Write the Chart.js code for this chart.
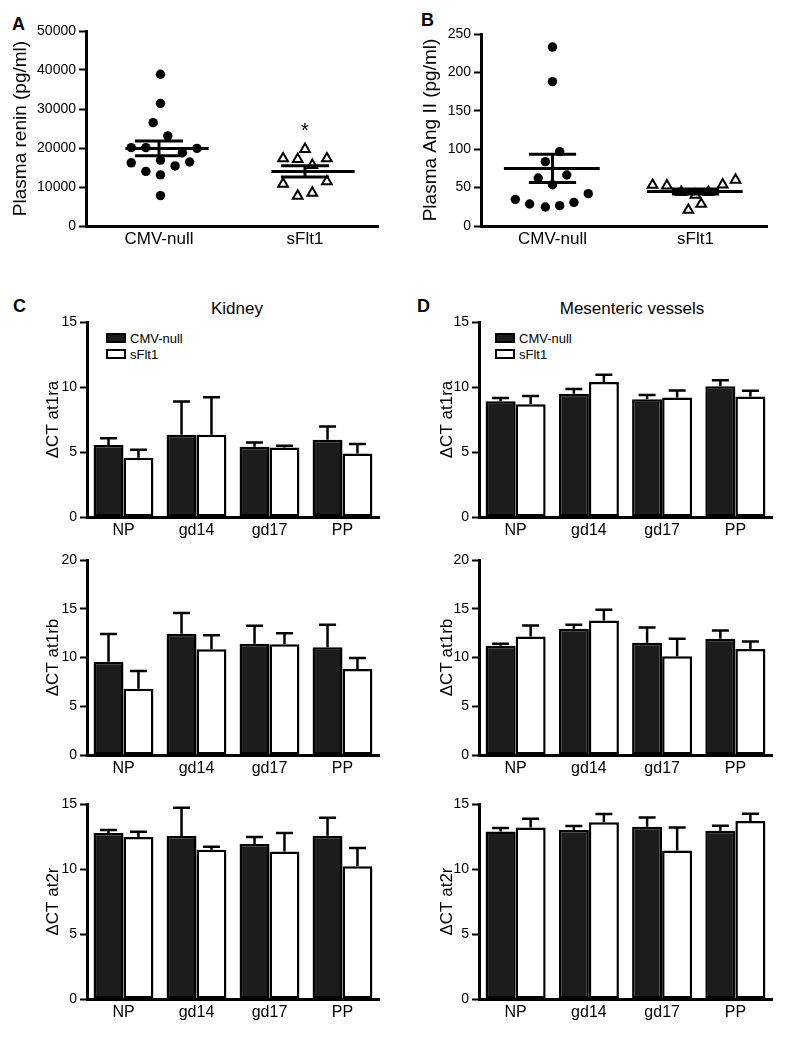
<!DOCTYPE html>
<html>
<head>
<meta charset="utf-8">
<script src="https://cdn.jsdelivr.net/npm/chart.js@4.4.1/dist/chart.umd.min.js"></script>
<style>
    html, body { margin: 0; padding: 0; background: #fff; }
    #fig { position: relative; width: 790px; height: 1041px; overflow: hidden;
           font-family: 'Liberation Sans', Arial, sans-serif; color: #000; }
    #fig canvas { position: absolute; }
    .tag { position: absolute; font-weight: bold; font-size: 18px; line-height: 18px; }
    .head { position: absolute; width: 300px; text-align: center; font-size: 17px; line-height: 17px; }
    .legend { position: absolute; font-size: 13px; }
    .legend .row { display: flex; align-items: center; height: 16px; }
    .legend .box { width: 20px; height: 10px; border: 2px solid #000; box-sizing: border-box;
                   margin-right: 4px; background: #fff; }
    .legend .box.dark { background: #1c1c1c; }
</style>
</head>
<body>
<div id="fig">
    <div class="tag" style="left:12px; top:15px;">A</div>
    <div class="tag" style="left:421px; top:11px;">B</div>
    <div class="tag" style="left:13px; top:297px;">C</div>
    <div class="tag" style="left:417px; top:297px;">D</div>
    <div class="head" style="left:87px; top:300px;">Kidney</div>
    <div class="head" style="left:482px; top:300px;">Mesenteric vessels</div>
    <div class="legend" style="left:106px; top:330px;">
        <div class="row"><span class="box dark"></span>CMV-null</div>
        <div class="row"><span class="box"></span>sFlt1</div>
    </div>
    <div class="legend" style="left:495px; top:330px;">
        <div class="row"><span class="box dark"></span>CMV-null</div>
        <div class="row"><span class="box"></span>sFlt1</div>
    </div>
</div>
<script>
// ---- data ----
const groups = ['CMV-null', 'sFlt1'];

// A: plasma renin (pg/ml)
const reninCmv = [38900, 31450, 26500, 23100, 20100, 20100, 19900, 18800, 16200, 16400, 16900, 14000, 15400, 13100, 7800];
const reninCmvJitter = [0.01, 0.01, -0.04, 0.06, -0.19, -0.09, 0.26, 0.16, -0.19, 0.21, 0.01, -0.09, 0.11, 0.01, 0.01];
const reninSflt = [19700, 17300, 17100, 17300, 15600, 10800, 11400, 7700, 8500];
const reninSfltJitter = [0, -0.15, -0.05, 0.15, 0.05, -0.15, 0.15, -0.05, 0.05];
const reninMean = [19900, 14000];
const reninSem = [1900, 1450];
const reninStar = [null, 25600];

// B: plasma Ang II (pg/ml)
const angCmv = [233, 188, 96.8, 83.8, 62.5, 66.4, 53.8, 34.7, 28.6, 24.7, 26.5, 30.8, 42.1];
const angCmvJitter = [0, 0, 0.05, -0.05, -0.1, 0.1, 0, -0.26, -0.16, -0.05, 0.05, 0.15, 0.25];
const angSflt = [53.4, 52.5, 44, 44, 53.8, 60, 40.4, 28.6, 20.8];
const angSfltJitter = [-0.3, -0.2, -0.1, 0.09, 0.19, 0.28, 0, 0.04, -0.05];
const angMean = [75, 45];
const angSem = [18.5, 3.3];

// C / D: delta CT by stage
const stages = ['NP', 'gd14', 'gd17', 'PP'];

const kidAt1raCmv = [5.53, 6.33, 5.40, 5.94];
const kidAt1raCmvErr = [0.52, 2.55, 0.34, 1.03];
const kidAt1raSflt = [4.55, 6.33, 5.35, 4.89];
const kidAt1raSfltErr = [0.62, 2.88, 0.13, 0.72];

const kidAt1rbCmv = [9.57, 12.44, 11.42, 11.04];
const kidAt1rbCmvErr = [2.84, 2.12, 1.84, 2.33];
const kidAt1rbSflt = [6.80, 10.84, 11.35, 8.82];
const kidAt1rbSfltErr = [1.82, 1.43, 1.13, 1.13];

const kidAt2rCmv = [12.77, 12.53, 11.92, 12.56];
const kidAt2rCmvErr = [0.23, 2.19, 0.54, 1.39];
const kidAt2rSflt = [12.46, 11.48, 11.35, 10.22];
const kidAt2rSfltErr = [0.41, 0.23, 1.42, 1.39];

const mesAt1raCmv = [8.90, 9.49, 9.05, 10.05];
const mesAt1raCmvErr = [0.25, 0.36, 0.33, 0.46];
const mesAt1raSflt = [8.67, 10.38, 9.20, 9.26];
const mesAt1raSfltErr = [0.64, 0.57, 0.54, 0.46];

const mesAt1rbCmv = [11.21, 12.95, 11.52, 11.93];
const mesAt1rbCmvErr = [0.20, 0.41, 1.56, 0.85];
const mesAt1rbSflt = [12.16, 13.80, 10.12, 10.87];
const mesAt1rbSfltErr = [1.13, 1.09, 1.81, 0.78];

const mesAt2rCmv = [12.89, 13.00, 13.25, 12.94];
const mesAt2rCmvErr = [0.26, 0.30, 0.72, 0.39];
const mesAt2rSflt = [13.20, 13.59, 11.43, 13.69];
const mesAt2rSfltErr = [0.67, 0.64, 1.77, 0.56];

// ---- drawing ----
Chart.defaults.font.family = "'Liberation Sans', Arial, sans-serif";
Chart.defaults.color = '#000';
Chart.defaults.animation = false;

const PAD_TOP = 12, PAD_RIGHT = 10, AXIS_H = 30;

// one-sided error bars on top of each bar
const errorBars = {
    id: 'errorBars',
    afterDatasetsDraw(chart) {
        const { ctx } = chart;
        const y = chart.scales.y;
        chart.data.datasets.forEach((ds, i) => {
            if (!ds.errors) return;
            chart.getDatasetMeta(i).data.forEach((bar, j) => {
                const top = y.getPixelForValue(ds.data[j] + ds.errors[j]);
                ctx.save();
                ctx.strokeStyle = '#000';
                ctx.lineWidth = 2.5;
                ctx.beginPath();
                ctx.moveTo(bar.x, bar.y);
                ctx.lineTo(bar.x, top);
                ctx.moveTo(bar.x - 8.5, top);
                ctx.lineTo(bar.x + 8.5, top);
                ctx.stroke();
                ctx.restore();
            });
        });
    }
};

// mean line with SEM whiskers over the dot plots
const meanSem = {
    id: 'meanSem',
    afterDatasetsDraw(chart, args, opts) {
        if (!opts.means) return;
        const { ctx, scales: { x, y } } = chart;
        opts.means.forEach((m, i) => {
            const cx = i + 1;
            const ym = y.getPixelForValue(m);
            const yu = y.getPixelForValue(m + opts.sems[i]);
            const yl = y.getPixelForValue(m - opts.sems[i]);
            ctx.save();
            ctx.strokeStyle = '#000';
            ctx.lineWidth = 3;
            ctx.beginPath();
            ctx.moveTo(x.getPixelForValue(cx + opts.span[0]), ym);
            ctx.lineTo(x.getPixelForValue(cx + opts.span[1]), ym);
            ctx.moveTo(x.getPixelForValue(cx - opts.cap), yu);
            ctx.lineTo(x.getPixelForValue(cx + opts.cap), yu);
            ctx.moveTo(x.getPixelForValue(cx - opts.cap), yl);
            ctx.lineTo(x.getPixelForValue(cx + opts.cap), yl);
            ctx.moveTo(x.getPixelForValue(cx), yu);
            ctx.lineTo(x.getPixelForValue(cx), yl);
            ctx.stroke();
            if (opts.stars && opts.stars[i] != null) {
                ctx.fillStyle = '#000';
                ctx.font = "20px 'Liberation Sans', Arial, sans-serif";
                ctx.textAlign = 'center';
                ctx.textBaseline = 'alphabetic';
                ctx.fillText('*', x.getPixelForValue(cx), y.getPixelForValue(opts.stars[i]) + 11);
            }
            ctx.restore();
        });
    }
};

function makeCanvas(area) {
    const c = document.createElement('canvas');
    c.width = area.r - area.l + area.axisW + PAD_RIGHT;
    c.height = area.b - area.t + PAD_TOP + AXIS_H;
    c.style.left = (area.l - area.axisW) + 'px';
    c.style.top = (area.t - PAD_TOP) + 'px';
    document.getElementById('fig').appendChild(c);
    return c;
}

function yAxis(area, max, step, title, tickSize, titleSize) {
    return {
        min: 0,
        max: max,
        ticks: { stepSize: step, font: { size: tickSize }, color: '#000', padding: 3, callback: v => String(v) },
        grid: { drawOnChartArea: false, drawTicks: true, tickLength: 7, tickWidth: 2, tickColor: '#000' },
        border: { display: true, color: '#000', width: 3 },
        title: { display: true, text: title, color: '#000', font: { size: titleSize }, padding: { top: area.titlePad, bottom: 0 } },
        afterFit: s => { s.width = area.axisW; }
    };
}

function scatterPanel(area, cmv, cmvJit, sflt, sfltJit, means, sems, stars, max, step, title) {
    new Chart(makeCanvas(area), {
        type: 'scatter',
        data: {
            datasets: [
                {
                    label: groups[0],
                    data: cmv.map((v, i) => ({ x: 1 + cmvJit[i], y: v })),
                    pointStyle: 'circle',
                    pointRadius: 4.7,
                    backgroundColor: '#000',
                    borderWidth: 0
                },
                {
                    label: groups[1],
                    data: sflt.map((v, i) => ({ x: 2 + sfltJit[i], y: v })),
                    pointStyle: 'triangle',
                    pointRadius: 5.6,
                    backgroundColor: '#fff',
                    borderColor: '#000',
                    borderWidth: 2
                }
            ]
        },
        options: {
            responsive: false,
            devicePixelRatio: 1,
            layout: { padding: { top: PAD_TOP, right: PAD_RIGHT, left: 0, bottom: 0 } },
            scales: {
                x: {
                    type: 'linear',
                    min: 0.5,
                    max: 2.5,
                    afterBuildTicks: s => { s.ticks = groups.map((g, i) => ({ value: i + 1 })); },
                    ticks: { font: { size: 17 }, color: '#000', padding: 3, autoSkip: false, maxRotation: 0,
                             callback: v => groups[v - 1] || '' },
                    grid: { display: false, drawTicks: false },
                    border: { display: true, color: '#000', width: 3 },
                    afterFit: s => { s.height = AXIS_H; }
                },
                y: yAxis(area, max, step, title, 14, 19)
            },
            plugins: {
                legend: { display: false },
                tooltip: { enabled: false },
                meanSem: { means, sems, stars, span: area.span, cap: 0.165 }
            }
        },
        plugins: [meanSem]
    });
}

function barPanel(area, cmv, cmvErr, sflt, sfltErr, max, title) {
    const common = { borderColor: '#000', borderWidth: 2.5, borderSkipped: false,
                     categoryPercentage: 0.82, barPercentage: 1 };
    new Chart(makeCanvas(area), {
        type: 'bar',
        data: {
            labels: stages,
            datasets: [
                Object.assign({ label: groups[0], data: cmv, errors: cmvErr, backgroundColor: '#1c1c1c' }, common),
                Object.assign({ label: groups[1], data: sflt, errors: sfltErr, backgroundColor: '#fff' }, common)
            ]
        },
        options: {
            responsive: false,
            devicePixelRatio: 1,
            layout: { padding: { top: PAD_TOP, right: PAD_RIGHT, left: 0, bottom: 0 } },
            scales: {
                x: {
                    ticks: { font: { size: 16 }, color: '#000', padding: 4, autoSkip: false, maxRotation: 0 },
                    grid: { display: false, drawTicks: false },
                    border: { display: true, color: '#000', width: 3 }
                    ,afterFit: s => { s.height = AXIS_H; }
                },
                y: yAxis(area, max, 5, title, 14, 17)
            },
            plugins: { legend: { display: false }, tooltip: { enabled: false } }
        },
        plugins: [errorBars]
    });
}

// panel geometry (plot areas in page pixels)
const areaA = { l: 86, t: 31, r: 378, b: 226, axisW: 86, titlePad: 9, span: [-0.23, 0.34] };
const areaB = { l: 481, t: 34, r: 767, b: 226, axisW: 86, titlePad: 24, span: [-0.34, 0.33] };
const colC = { l: 87, r: 379, axisW: 57, titlePad: 13 };
const colD = { l: 479, r: 772, axisW: 54, titlePad: 12 };
const rows = [{ t: 322, b: 517 }, { t: 560, b: 755 }, { t: 804, b: 999 }];
const at = (col, row) => Object.assign({}, col, row);

scatterPanel(areaA, reninCmv, reninCmvJitter, reninSflt, reninSfltJitter, reninMean, reninSem, reninStar,
             50000, 10000, 'Plasma renin (pg/ml)');
scatterPanel(areaB, angCmv, angCmvJitter, angSflt, angSfltJitter, angMean, angSem, null,
             250, 50, 'Plasma Ang II (pg/ml)');

barPanel(at(colC, rows[0]), kidAt1raCmv, kidAt1raCmvErr, kidAt1raSflt, kidAt1raSfltErr, 15, 'ΔCT at1ra');
barPanel(at(colC, rows[1]), kidAt1rbCmv, kidAt1rbCmvErr, kidAt1rbSflt, kidAt1rbSfltErr, 20, 'ΔCT at1rb');
barPanel(at(colC, rows[2]), kidAt2rCmv, kidAt2rCmvErr, kidAt2rSflt, kidAt2rSfltErr, 15, 'ΔCT at2r');

barPanel(at(colD, rows[0]), mesAt1raCmv, mesAt1raCmvErr, mesAt1raSflt, mesAt1raSfltErr, 15, 'ΔCT at1ra');
barPanel(at(colD, rows[1]), mesAt1rbCmv, mesAt1rbCmvErr, mesAt1rbSflt, mesAt1rbSfltErr, 20, 'ΔCT at1rb');
barPanel(at(colD, rows[2]), mesAt2rCmv, mesAt2rCmvErr, mesAt2rSflt, mesAt2rSfltErr, 15, 'ΔCT at2r');
</script>
</body>
</html>
